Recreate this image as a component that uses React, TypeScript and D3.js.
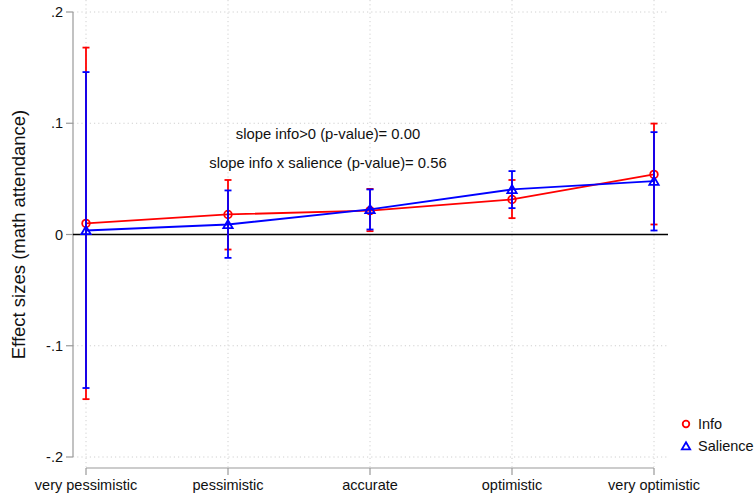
import React from 'react';
import * as d3 from 'd3';

const categories = ['very pessimistic', 'pessimistic', 'accurate', 'optimistic', 'very optimistic'];

const infoEst = [0.010, 0.018, 0.0215, 0.0315, 0.054];
const infoLo = [-0.148, -0.0135, 0.003, 0.0147, 0.009];
const infoHi = [0.168, 0.049, 0.041, 0.049, 0.0997];

const salEst = [0.0036, 0.009, 0.0225, 0.0405, 0.048];
const salLo = [-0.138, -0.021, 0.0045, 0.0237, 0.0036];
const salHi = [0.146, 0.0396, 0.0405, 0.057, 0.092];

const yTicks = [-0.2, -0.1, 0, 0.1, 0.2];
const yTickLabels = ['-.2', '-.1', '0', '.1', '.2'];

const notes = ['slope info>0 (p-value)= 0.00', 'slope info x salience (p-value)= 0.56'];

const W = 756;
const H = 498;
const plot = {left: 73, right: 668, top: 0, bottom: 467};
const font = '"Liberation Sans", Arial, sans-serif';

function Series({est, lo, hi, color, marker, x, y}) {
    const line = d3.line<number>()
        .x((d, i) => x(categories[i]))
        .y(d => y(d));
    return (
        <g>
            <path d={line(est)} fill="none" stroke={color} strokeWidth={1.8} />
            {categories.map((c, i) => (
                <g key={c} stroke={color} strokeWidth={1.8}>
                    <line x1={x(c)} x2={x(c)} y1={y(lo[i])} y2={y(hi[i])} />
                    <line x1={x(c) - 3.5} x2={x(c) + 3.5} y1={y(lo[i])} y2={y(lo[i])} />
                    <line x1={x(c) - 3.5} x2={x(c) + 3.5} y1={y(hi[i])} y2={y(hi[i])} />
                </g>
            ))}
            {est.map((v, i) => marker === 'circle'
                ? <circle key={i} cx={x(categories[i])} cy={y(v)} r={3.8} fill="none" stroke={color} strokeWidth={1.8} />
                : <path key={i} d={d3.symbol(d3.symbolTriangle, 38)()}
                        transform={`translate(${x(categories[i])},${y(v) + 1})`}
                        fill="none" stroke={color} strokeWidth={1.8} />
            )}
        </g>
    );
}

export default function App() {
    const x = d3.scalePoint<string>()
        .domain(categories)
        .range([86, 654]);

    const y = d3.scaleLinear()
        .domain([-0.2, 0.2])
        .range([457, 12]);

    return (
        <svg width={W} height={H} style={{position: 'absolute', left: 0, top: 0}} fontFamily={font}>
            <rect width={W} height={H} fill="white" />

            {/* grid */}
            <g stroke="#d0d0d0" strokeWidth={1} strokeDasharray="1.2,3">
                {yTicks.filter(t => t !== 0).map(t => (
                    <line key={t} x1={plot.left} x2={plot.right} y1={y(t)} y2={y(t)} />
                ))}
                {categories.map(c => (
                    <line key={c} x1={x(c)} x2={x(c)} y1={plot.top} y2={plot.bottom} />
                ))}
            </g>

            {/* y axis */}
            <line x1={plot.left} x2={plot.left} y1={y(0.2)} y2={y(-0.2)} stroke="#999" strokeWidth={1.2} />
            {yTicks.map((t, i) => (
                <g key={t}>
                    <line x1={plot.left - 7} x2={plot.left} y1={y(t)} y2={y(t)} stroke="#999" strokeWidth={1.2} />
                    <text x={plot.left - 10} y={y(t)} dy="0.35em" textAnchor="end" fontSize={14.5} fill="#111">
                        {yTickLabels[i]}
                    </text>
                </g>
            ))}
            <text transform={`translate(25,${y(0)}) rotate(-90)`} textAnchor="middle" fontSize={18.5} fill="#111">
                Effect sizes (math attendance)
            </text>

            {/* x axis */}
            <line x1={x(categories[0])} x2={x(categories[4])} y1={468} y2={468} stroke="#999" strokeWidth={1.2} />
            {categories.map(c => (
                <g key={c}>
                    <line x1={x(c)} x2={x(c)} y1={468} y2={475} stroke="#999" strokeWidth={1.2} />
                    <text x={x(c)} y={490} textAnchor="middle" fontSize={14.5} fill="#111">{c}</text>
                </g>
            ))}

            {/* zero line */}
            <line x1={plot.left} x2={plot.right} y1={y(0)} y2={y(0)} stroke="black" strokeWidth={1.3} />

            <Series est={infoEst} lo={infoLo} hi={infoHi} color="#ff0000" marker="circle" x={x} y={y} />
            <Series est={salEst} lo={salLo} hi={salHi} color="#0000ff" marker="triangle" x={x} y={y} />

            {notes.map((n, i) => (
                <text key={n} x={328} y={139 + i * 29} textAnchor="middle" fontSize={14.8} fill="#111">{n}</text>
            ))}

            {/* legend */}
            <circle cx={686} cy={424} r={3.3} fill="none" stroke="#ff0000" strokeWidth={1.8} />
            <text x={698} y={429} fontSize={14.5} fill="#111">Info</text>
            <path d={d3.symbol(d3.symbolTriangle, 30)()} transform="translate(686,447)" fill="none" stroke="#0000ff" strokeWidth={1.8} />
            <text x={698} y={451} fontSize={14.5} fill="#111">Salience</text>
        </svg>
    );
}
